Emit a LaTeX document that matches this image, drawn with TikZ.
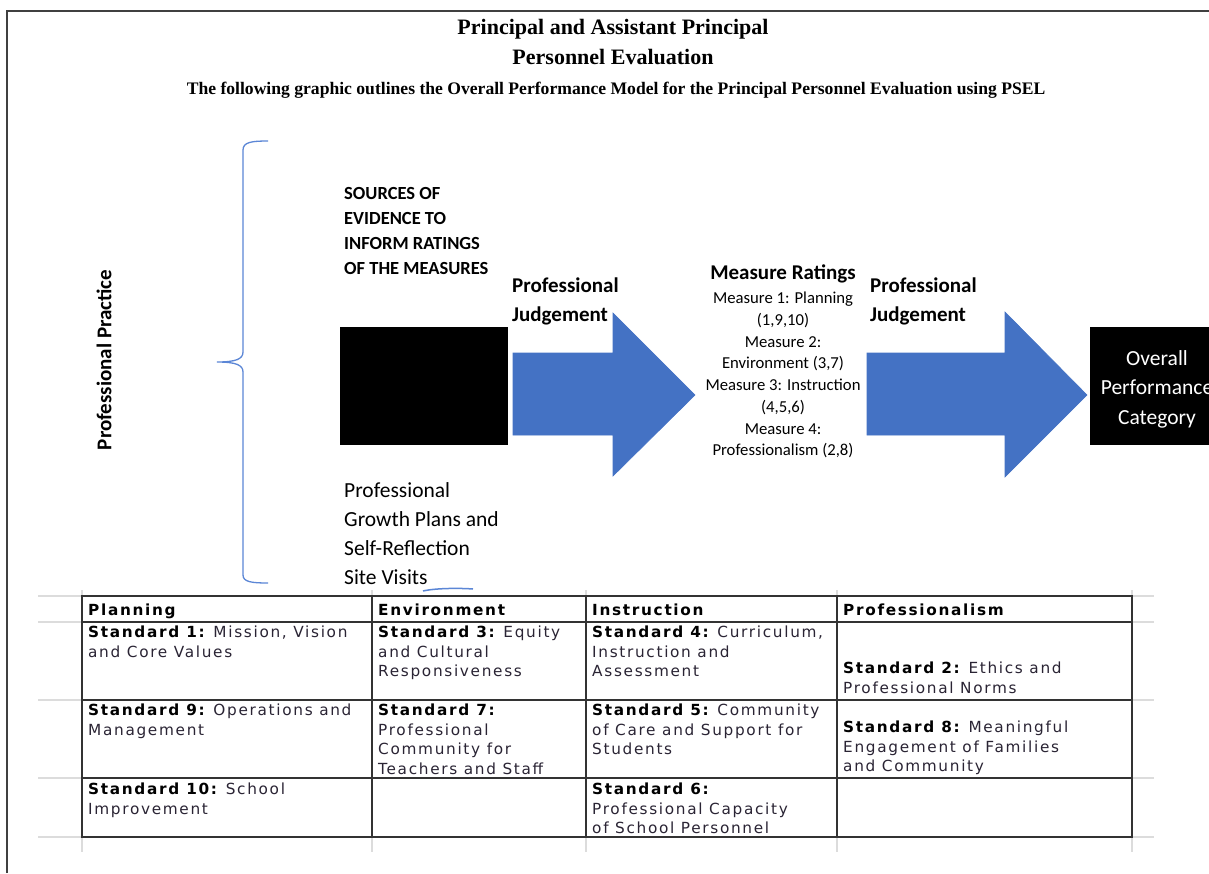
\documentclass[tikz,border=0pt]{standalone}
\usepackage{fontspec}
\setmainfont{Liberation Serif}
\newfontfamily\calfont{Carlito}
\newfontfamily\verdfont[LetterSpace=11]{DejaVu Sans}
\definecolor{arrowblue}{HTML}{4472C4}
\definecolor{braceblue}{HTML}{5B86D6}
\definecolor{gridgray}{HTML}{DCDCDC}
\definecolor{framegray}{HTML}{404040}
\definecolor{tabline}{HTML}{333333}
\definecolor{tabtext}{HTML}{2A2434}
\begin{document}
\begin{tikzpicture}[x=1pt,y=-1pt,
  txt/.style={inner sep=0pt, anchor=north west, align=left},
  calb/.style={font=\calfont\bfseries\fontsize{21}{29}\selectfont},
  tcell/.style={txt, text=tabtext, font=\verdfont\fontsize{15.3}{19.5}\selectfont},
  blockarrow/.style={fill=arrowblue, draw=arrowblue, line width=0.6pt},
  blackbox/.style={fill=black, draw=none, inner sep=0pt, anchor=north west}]
\useasboundingbox (0,0) rectangle (1209,873);
\clip (0,0) rectangle (1209,873);
\fill[white] (0,0) rectangle (1209,873);
% frame
\draw[framegray, line width=2pt] (7,873) -- (7,11) -- (1210,11);
% titles
\node[anchor=base, inner sep=0pt, font=\bfseries\fontsize{22}{30}\selectfont] (t1) at (613,34) {Principal and Assistant Principal};
\node[anchor=base, inner sep=0pt, font=\bfseries\fontsize{22}{30}\selectfont] (t2) at (613,64) {Personnel Evaluation};
\node[anchor=base, inner sep=0pt, font=\bfseries\fontsize{17.6}{20}\selectfont] (t3) at (616,94) {The following graphic outlines the Overall Performance Model for the Principal Personnel Evaluation using PSEL};
% brace
\draw[braceblue, line width=1.3pt] (268,141) .. controls (252,141) and (243,142) .. (243,150) -- (243,352)
  .. controls (243,359) and (236,362) .. (217,362) .. controls (236,362) and (243,365) .. (243,372) -- (243,575)
  .. controls (243,582) and (252,583) .. (268,583);
\node[rotate=90, inner sep=0pt, font=\calfont\bfseries\fontsize{21}{25}\selectfont] (pp) at (104,360) {Professional Practice};
% sources
\node[txt, font=\calfont\bfseries\fontsize{18.5}{25}\selectfont] (src) at (344,187) {SOURCES OF\\EVIDENCE TO\\INFORM RATINGS\\OF THE MEASURES};
\node[blackbox, minimum width=168pt, minimum height=118pt] (box1) at (340,327) {};
\node[txt, font=\calfont\fontsize{21.5}{29}\selectfont] (growth) at (344,482) {Professional\\Growth Plans and\\Self-Reflection\\Site Visits};
\draw[braceblue, line width=1.5pt] (423,591) .. controls (436,588) and (460,588) .. (473,589);
% arrows
\fill[blockarrow] (513,353) -- (613,353) -- (613,313) -- (695,395) -- (613,476) -- (613,435) -- (513,435) -- cycle;
\fill[blockarrow] (867,353) -- (1005,353) -- (1005,312) -- (1087,395) -- (1005,477) -- (1005,435) -- (867,435) -- cycle;
\node[txt, calb] (pj1) at (512,278) {Professional\\Judgement};
\node[txt, calb] (pj2) at (870,278) {Professional\\Judgement};
% measure ratings
\node[anchor=north, inner sep=0pt, calb] (mr) at (783,265) {Measure Ratings};
\node[anchor=north, inner sep=0pt, align=center, font=\calfont\fontsize{16.7}{21.7}\selectfont] (ml) at (783,292) {Measure 1: Planning\\(1,9,10)\\Measure 2:\\Environment (3,7)\\Measure 3: Instruction\\(4,5,6)\\Measure 4:\\Professionalism (2,8)};
% overall
\node[blackbox, minimum width=130pt, minimum height=118pt] (box2) at (1090,327) {};
\node[anchor=north, inner sep=0pt, align=center, text=white, font=\calfont\fontsize{21.5}{29.5}\selectfont] (ov) at (1157,350) {Overall\\Performance\\Category};
% table grid (light)
\foreach \yy in {596,622,700,778,837} \draw[gridgray, line width=2pt] (38,\yy) -- (1154,\yy);
\foreach \xx in {82,372,586,837,1132} \draw[gridgray, line width=2pt] (\xx,590) -- (\xx,852);
% table lines
\draw[tabline, line width=2pt] (82,596) rectangle (1132,837);
\foreach \yy in {622,700,778} \draw[tabline, line width=2pt] (82,\yy) -- (1132,\yy);
\foreach \xx in {372,586,837} \draw[tabline, line width=2pt] (\xx,596) -- (\xx,837);
% headers
\node[tcell, text=black] (h1) at (88,604) {\bfseries Planning};
\node[tcell, text=black] (h2) at (378,604) {\bfseries Environment};
\node[tcell, text=black] (h3) at (592,604) {\bfseries Instruction};
\node[tcell, text=black] (h4) at (843,604) {\bfseries Professionalism};
% row 1
\node[tcell] (c11) at (88,626) {\textbf{\color{black}Standard 1:} Mission, Vision\\and Core Values};
\node[tcell] (c12) at (378,626) {\textbf{\color{black}Standard 3:} Equity\\and Cultural\\Responsiveness};
\node[tcell] (c13) at (592,626) {\textbf{\color{black}Standard 4:} Curriculum,\\Instruction and\\Assessment};
\node[tcell] (c14) at (843,662) {\textbf{\color{black}Standard 2:} Ethics and\\Professional Norms};
% row 2
\node[tcell] (c21) at (88,704) {\textbf{\color{black}Standard 9:} Operations and\\Management};
\node[tcell] (c22) at (378,704) {\textbf{\color{black}Standard 7:}\\Professional\\Community for\\Teachers and Staff};
\node[tcell] (c23) at (592,704) {\textbf{\color{black}Standard 5:} Community\\of Care and Support for\\Students};
\node[tcell] (c24) at (843,721) {\textbf{\color{black}Standard 8:} Meaningful\\Engagement of Families\\and Community};
% row 3
\node[tcell] (c31) at (88,783) {\textbf{\color{black}Standard 10:} School\\Improvement};
\node[tcell] (c33) at (592,783) {\textbf{\color{black}Standard 6:}\\Professional Capacity\\of School Personnel};
\end{tikzpicture}
\end{document}
